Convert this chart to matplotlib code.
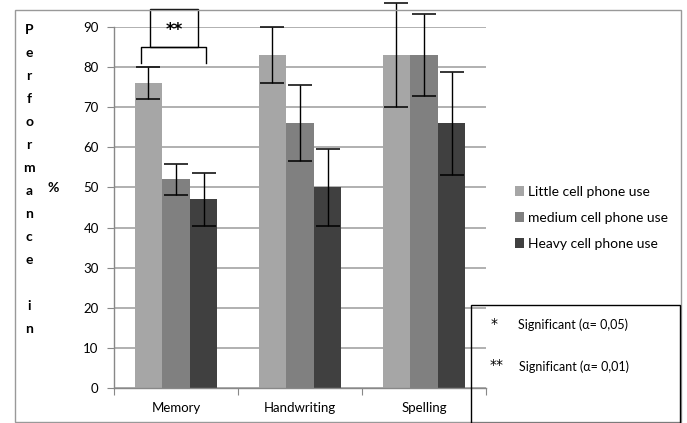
import numpy as np
import matplotlib
matplotlib.use("Agg")
import matplotlib.pyplot as plt
from matplotlib.patches import Rectangle

plt.rcParams['font.family'] = ['Lato', 'DejaVu Sans']

categories = ['Memory', 'Handwriting', 'Spelling']
groups = ['Little cell phone use', 'medium cell phone use', 'Heavy cell phone use']
little = [76, 83, 83]
medium = [52, 66, 83]
heavy = [47, 50, 66]
little_err = [4, 7, 13]
medium_err = [3.8, 9.5, 10.3]
heavy_err = [6.5, 9.5, 12.8]
colors = ['#a6a6a6', '#808080', '#404040']
yticks = list(range(0, 100, 10))

W, H = 687, 423
fig = plt.figure(figsize=(W / 100, H / 100), dpi=100)


def fx(px):
    return px / W


def fy(py):
    return 1 - py / H


ax = fig.add_axes([fx(114), fy(388), fx(486) - fx(114), fy(27) - fy(388)])

x = np.arange(len(categories))
bw = 0.222
handles = []
for i, (vals, errs) in enumerate(zip([little, medium, heavy],
                                     [little_err, medium_err, heavy_err])):
    pos = x + (i - 1) * bw
    b = ax.bar(pos, vals, bw, color=colors[i], zorder=2, label=groups[i])
    handles.append(b)
    ax.errorbar(pos, vals, yerr=errs, fmt='none', ecolor='black', elinewidth=1,
                capsize=8.3, capthick=1.1, zorder=3, clip_on=False)

ax.set_xlim(-0.5, 2.5)
ax.set_ylim(0, 90)
ax.set_yticks(yticks)
ax.set_xticks([-0.5, 0.5, 1.5, 2.5])
ax.set_xticklabels([])
ax.set_xticks(x, minor=True)
ax.set_xticklabels(categories, minor=True, fontsize=9.5)
ax.tick_params(axis='x', which='minor', length=0, pad=10)
ax.tick_params(axis='x', which='major', length=5, color='#888888')
ax.tick_params(axis='y', length=5, color='#888888', labelsize=9.5, pad=6)
ax.yaxis.grid(True, color='#b0b0b0', linewidth=1.4, zorder=0)
ax.set_axisbelow(True)
for s in ['top', 'right']:
    ax.spines[s].set_visible(False)
for s in ['left', 'bottom']:
    ax.spines[s].set_color('#888888')
    ax.spines[s].set_linewidth(1)

# significance bracket over the memory group
kw = dict(color='black', linewidth=1, clip_on=False)
ax.plot([-0.28, -0.28, 0.24, 0.24], [81, 85, 85, 81], **kw)
ax.add_patch(Rectangle((-0.21, 85), 0.39, 9.5, fill=False, edgecolor='black',
                       linewidth=1, clip_on=False))
ax.text(-0.015, 89.3, '**', ha='center', va='center', fontsize=12,
        fontweight='bold', family='DejaVu Sans')

ax.legend(handles=handles, labels=groups, loc='center left',
          bbox_to_anchor=(fx(502), fy(218)), bbox_transform=fig.transFigure,
          frameon=False, fontsize=10, handlelength=0.7, handleheight=0.7,
          handletextpad=0.3, labelspacing=1.0)

# outer chart frame
fig.patches.append(Rectangle((fx(15), fy(422)), fx(681) - fx(15), fy(10) - fy(422),
                             transform=fig.transFigure, fill=False,
                             edgecolor='#999999', linewidth=1))

# significance key box
fig.patches.append(Rectangle((fx(471), fy(423)), fx(680) - fx(471), fy(305) - fy(423),
                             transform=fig.transFigure, fill=False,
                             edgecolor='black', linewidth=1))
fig.text(fx(494), fy(324), '*', ha='center', va='center', fontsize=10,
         family='DejaVu Sans')
fig.text(fx(497), fy(365), '**', ha='center', va='center', fontsize=10,
         family='DejaVu Sans')
fig.text(fx(518), fy(325), 'Significant (\u03b1= 0,05)', ha='left', va='center',
         fontsize=9)
fig.text(fx(519), fy(367), 'Significant (\u03b1= 0,01)', ha='left', va='center',
         fontsize=9)

# vertical axis title, one letter per line
letters = list('Performance') + [''] + list('in')
for k, ch in enumerate(letters):
    fig.text(fx(29), fy(30 + 23 * k), ch, ha='center', va='center',
             fontsize=10, fontweight='bold')
fig.text(fx(53), fy(188), '%', ha='center', va='center', fontsize=10,
         fontweight='bold')

fig.savefig('out.png', dpi=100)
